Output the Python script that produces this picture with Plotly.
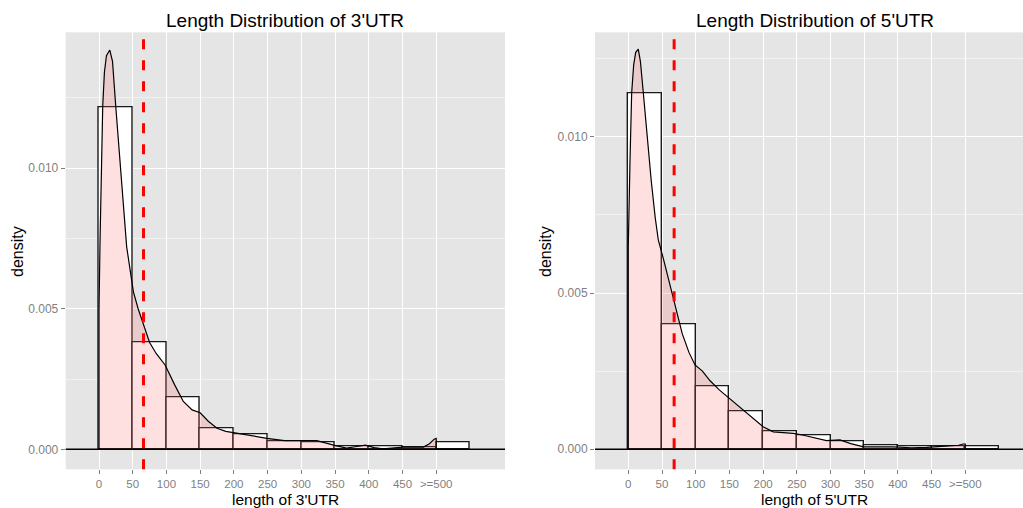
import plotly.graph_objects as go

# ---------------- data ----------------
bin_left = [0, 50, 100, 150, 200, 250, 300, 350, 400, 450, 500]
bin_width = 50
tick_vals = [0, 50, 100, 150, 200, 250, 300, 350, 400, 450, 500]
tick_text = ["0", "50", "100", "150", "200", "250", "300", "350", "400", "450", ">=500"]

utr3_hist = [0.01217, 0.0038, 0.00185, 0.00075, 0.00053, 0.0003, 0.000235,
             0.00012, 0.0001, 0.00007, 0.00024]
utr5_hist = [0.0114, 0.00401, 0.00202, 0.001225, 0.000563, 0.000435, 0.00024,
             0.00013, 0.0001, 0.0001, 0.00008]

utr3_dens_x = [0, 1.5, 3.5, 5.5, 8, 11, 16, 20, 24.8, 30, 36, 41, 46, 51, 58, 66,
               75, 85, 98, 112, 125, 138, 150, 162, 175, 188, 200, 225, 249, 275,
               298, 323, 348, 367, 382, 395, 408, 421, 451, 481, 490, 497, 500]
utr3_dens_y = [0.0050, 0.0074, 0.0100, 0.0122, 0.0134, 0.0140, 0.0142, 0.0138,
               0.0122, 0.0105, 0.0087, 0.0072, 0.0064, 0.0056, 0.0050, 0.0044,
               0.0038, 0.0034, 0.0030, 0.0023, 0.0017, 0.0014, 0.0013, 0.0010,
               0.00075, 0.00064, 0.00059, 0.00050, 0.00039, 0.00031, 0.00030,
               0.00031, 0.00015, 0.00004, 0.00010, 0.00015, 0.00006, 0.00002,
               0.00008, 0.00008, 0.00020, 0.00036, 0.00039]

utr5_dens_x = [0, 2.5, 5, 8, 11, 14.8, 18, 22.3, 28, 34, 40, 44.5, 52, 60, 67, 80,
               90, 99, 110, 121, 135, 150, 160, 170, 185, 200, 215, 230, 245, 260,
               270, 285, 294, 314, 330, 349, 370, 393, 420, 443, 470, 490, 497, 500]
utr5_dens_y = [0.0065, 0.0092, 0.0114, 0.0123, 0.0127, 0.0128, 0.0124, 0.0114,
               0.0100, 0.0086, 0.0074, 0.0067, 0.0061, 0.0054, 0.0048, 0.0037,
               0.0031, 0.0027, 0.0025, 0.0022, 0.0019, 0.00163, 0.00145, 0.00126,
               0.00098, 0.00072, 0.00056, 0.00053, 0.00051, 0.00045, 0.00040,
               0.00031, 0.00028, 0.00030, 0.00018, 0.00008, 0.00009, 0.00008,
               0.00005, 0.00006, 0.00010, 0.00013, 0.00017, 0.00017]

mean_3 = 66
mean_5 = 68

titles = ["Length Distribution of 3'UTR", "Length Distribution of 5'UTR"]
xtitles = ["length of 3'UTR", "length of 5'UTR"]
y_tick_vals = [0, 0.005, 0.010]
y_tick_text = ["0.000", "0.005", "0.010"]
y_minor_vals = [0.0025, 0.0075, 0.0125]

# ---------------- figure ----------------
W, H = 1023, 508
FONT = "Liberation Sans, Arial, sans-serif"
fig = go.Figure()

panels = [
    dict(hist=utr3_hist, dx=utr3_dens_x, dy=utr3_dens_y, mean=mean_3, xa="x", ya="y"),
    dict(hist=utr5_hist, dx=utr5_dens_x, dy=utr5_dens_y, mean=mean_5, xa="x2", ya="y2"),
]

for p in panels:
    centers = [b + bin_width / 2 for b in bin_left]
    fig.add_trace(go.Bar(x=centers, y=p["hist"], width=bin_width,
                         marker=dict(color="white", line=dict(color="#1a1a1a", width=1.4)),
                         xaxis=p["xa"], yaxis=p["ya"], showlegend=False))
    xs = [p["dx"][0]] + p["dx"] + [p["dx"][-1]]
    ys = [0] + p["dy"] + [0]
    fig.add_trace(go.Scatter(x=xs, y=ys, mode="lines", fill="toself",
                             fillcolor="rgba(255,102,102,0.2)",
                             line=dict(color="black", width=1.2),
                             xaxis=p["xa"], yaxis=p["ya"], showlegend=False))
    fig.add_shape(type="line", xref=p["xa"], yref=p["ya"] + " domain",
                  x0=p["mean"], x1=p["mean"], y0=0, y1=1,
                  line=dict(color="#FF0000", width=3, dash="10px,11px"), layer="above")
    fig.add_shape(type="line", xref=p["xa"] + " domain", yref=p["ya"],
                  x0=0, x1=1, y0=0, y1=0,
                  line=dict(color="black", width=1.4), layer="above")

common_x = dict(tickmode="array", tickvals=tick_vals, ticktext=tick_text,
                showgrid=True, gridcolor="white", gridwidth=1.2, zeroline=False,
                showline=False, ticks="outside", ticklen=4, tickcolor="#7F7F7F",
                tickwidth=1, tickfont=dict(family=FONT, size=11.5, color="#7F7F7F"))
common_y = dict(tickmode="array", tickvals=y_tick_vals, ticktext=y_tick_text,
                showgrid=True, gridcolor="white", gridwidth=1.2, zeroline=False,
                showline=False, ticks="outside", ticklen=4, tickcolor="#7F7F7F",
                tickwidth=1, tickfont=dict(family=FONT, size=12, color="#7F7F7F"),
                minor=dict(tickmode="array", tickvals=y_minor_vals, showgrid=True,
                           gridcolor="#F2F2F2", gridwidth=0.6, ticks=""))

left_dom = [65.7 / W, 505 / W]
right_dom = [595 / W, 1.0]
y_dom = [1 - 469.3 / H, 1 - 32.3 / H]

fig.update_layout(
    width=W, height=H, margin=dict(l=0, r=0, t=0, b=0),
    paper_bgcolor="white", plot_bgcolor="#E5E5E5",
    barmode="overlay", bargap=0,
    font=dict(family=FONT),
    xaxis=dict(domain=left_dom, range=[-49.4, 602], anchor="y", **common_x),
    yaxis=dict(domain=y_dom, range=[-0.000711, 0.01483], anchor="x", **common_y),
    xaxis2=dict(domain=right_dom, range=[-49.4, 585.6], anchor="y2", **common_x),
    yaxis2=dict(domain=y_dom, range=[-0.00064, 0.01334], anchor="x2", **common_y),
)

ann = []
title_cx = [285.4 / W, 814.5 / W]
for i in range(2):
    ann.append(dict(text=titles[i], x=title_cx[i], y=1 - 20 / H, xref="paper", yref="paper",
                    showarrow=False, xanchor="center", yanchor="middle",
                    font=dict(family=FONT, size=19, color="black")))
    ann.append(dict(text=xtitles[i], x=title_cx[i], y=1 - 499 / H, xref="paper", yref="paper",
                    showarrow=False, xanchor="center", yanchor="middle",
                    font=dict(family=FONT, size=15.5, color="black")))
ylab_x = [17 / W, 545 / W]
for i in range(2):
    ann.append(dict(text="density", x=ylab_x[i], y=1 - 252 / H, xref="paper", yref="paper",
                    showarrow=False, xanchor="center", yanchor="middle", textangle=-90,
                    font=dict(family=FONT, size=16, color="black")))
fig.update_layout(annotations=ann)

fig.write_html("out.html")
